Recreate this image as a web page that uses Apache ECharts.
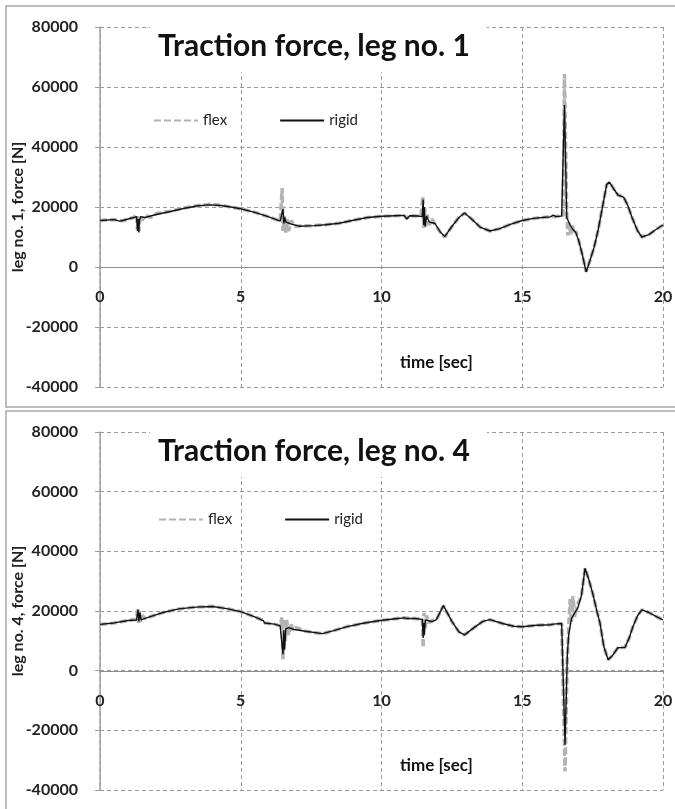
<!DOCTYPE html>
<html><head><meta charset="utf-8">
<script src="https://cdn.jsdelivr.net/npm/echarts@6/dist/echarts.min.js"></script>
<style>html,body{margin:0;padding:0;background:#fff}#c{width:675px;height:809px}</style>
</head><body><div id="c"></div>
<script>
// ---- data ----
const titles = ['Traction force, leg no. 1', 'Traction force, leg no. 4'];
const yNames = ['leg no. 1, force [N]', 'leg no. 4, force [N]'];
const seriesNames = ['flex', 'rigid'];
const xTicks = [0, 5, 10, 15, 20];
const yTicks = [-40000, -20000, 0, 20000, 40000, 60000, 80000];

const leg1RigidT = [0,0.5,0.7,0.8,1.0,1.2,1.3,1.33,1.36,1.38,1.40,1.45,1.6,2.0,2.5,3.0,3.5,3.9,4.3,4.7,5.0,5.5,6.0,6.4,6.45,6.5,6.53,6.56,6.6,6.8,7.1,7.6,8.0,8.5,9.0,9.5,10.0,10.5,10.8,10.9,11.0,11.3,11.45,11.48,11.5,11.52,11.55,11.6,11.7,11.9,12.1,12.25,12.5,12.75,12.95,13.2,13.5,13.85,14.2,14.6,15.0,15.4,15.8,16.0,16.1,16.2,16.4,16.45,16.5,16.58,16.7,16.8,16.9,17.0,17.15,17.27,17.4,17.55,17.7,17.85,18.0,18.1,18.25,18.4,18.6,18.75,18.9,19.1,19.25,19.5,19.75,20];
const leg1RigidV = [15500,15800,15300,15500,16000,16500,16800,12000,16000,11500,15500,16800,16500,17500,18500,19600,20400,20700,20500,19900,19400,18200,16700,15300,15000,19300,14500,16500,15000,14300,13600,13800,14100,14600,15600,16500,16900,17100,17200,16000,17100,17000,16800,22500,14000,20000,13500,17000,15000,14500,11500,10200,13500,16500,18000,16000,13300,12000,12800,14300,15500,16200,16600,16700,17300,16800,17000,17200,54000,16500,14000,12500,11500,9000,3500,-1700,2000,6500,12500,20000,27500,28300,26000,24000,23300,20500,16500,12000,10000,10800,12500,14000];

const leg1FlexT = [0,0.5,0.8,1.0,1.2,1.3,1.33,1.36,1.39,1.42,1.5,1.6,1.8,2.0,2.5,3.0,3.5,3.9,4.3,4.7,5.0,5.5,6.0,6.4,6.47,6.5,6.55,6.6,6.65,6.7,6.8,6.9,7.1,7.6,8.0,8.5,9.0,9.5,10.0,10.5,10.8,10.9,11.0,11.4,11.47,11.5,11.53,11.57,11.62,11.7,11.8,11.9,12.1,12.25,12.5,12.75,12.95,13.2,13.5,13.85,14.2,14.6,15.0,15.4,15.8,16.0,16.2,16.45,16.5,16.58,16.62,16.67,16.72,16.78,16.85,16.9,17.0,17.15,17.27,17.4,17.55,17.7,17.85,18.0,18.1,18.25,18.4,18.6,18.75,18.9,19.1,19.25,19.5,19.75,20];
const leg1FlexV = [15500,15800,15400,16000,16500,17500,12500,17200,12000,17000,15500,17200,16500,17800,18600,19700,20500,20900,20600,19900,19400,18200,16700,15300,26300,12000,17000,11500,16000,12000,15500,13500,13700,13800,14100,14600,15600,16500,16900,17100,17200,16200,17100,17000,23500,13000,20000,13500,17500,14000,16000,14200,11400,10000,13500,16500,18000,16000,13300,12000,12800,14300,15500,16200,16600,16700,16800,17200,64300,18000,10500,15000,10800,14000,11000,12000,9000,3500,-1500,2000,6500,12500,20000,27500,28300,26000,24000,23300,20500,16500,12000,10000,10800,12500,14000];

const leg4RigidT = [0,0.5,1.0,1.3,1.35,1.38,1.42,1.46,1.6,2.2,2.8,3.4,4.0,4.5,5.0,5.5,5.8,5.85,5.9,6.2,6.4,6.47,6.5,6.53,6.56,6.6,6.7,6.9,7.3,7.9,8.3,8.75,9.3,9.95,10.5,10.8,10.85,10.9,11.2,11.45,11.48,11.5,11.52,11.56,11.65,11.8,11.95,12.2,12.5,12.75,12.95,13.3,13.6,13.85,14.3,14.7,15.0,15.5,16.0,16.05,16.1,16.4,16.45,16.52,16.6,16.65,16.75,16.97,17.1,17.23,17.35,17.5,17.65,17.76,17.9,18.05,18.2,18.4,18.65,18.8,18.93,19.1,19.25,19.5,19.75,20];
const leg4RigidV = [15500,16000,16800,17000,20500,16500,19500,17000,17500,19400,20700,21300,21500,20800,19800,18000,16800,16000,16600,15600,15000,14500,5500,13500,7000,14000,14400,13800,13200,12400,13400,14700,15800,16800,17400,17700,18000,17500,17500,17200,11000,16000,12000,17000,16800,16400,17100,21800,16500,13000,12000,14500,16500,17100,15800,14900,14700,15200,15400,14800,15600,15800,15500,-24800,5000,12000,17500,21000,25000,34300,31000,26000,20000,16000,8000,3700,5000,7700,7800,11000,14700,18500,20400,19500,18200,17000];

const leg4FlexT = [0,0.5,1.0,1.3,1.34,1.37,1.4,1.44,1.5,1.6,2.2,2.8,3.4,4.0,4.5,5.0,5.5,5.8,5.85,5.9,6.2,6.4,6.46,6.5,6.54,6.58,6.63,6.7,6.78,6.85,6.95,7.3,7.9,8.3,8.75,9.3,9.95,10.5,10.8,11.2,11.45,11.48,11.51,11.55,11.6,11.68,11.8,11.95,12.2,12.5,12.75,12.95,13.3,13.6,13.85,14.3,14.7,15.0,15.5,16.0,16.4,16.45,16.52,16.6,16.65,16.7,16.75,16.8,16.87,16.95,17.1,17.23,17.35,17.5,17.65,17.76,17.9,18.05,18.2,18.4,18.65,18.8,18.93,19.1,19.25,19.5,19.75,20];
const leg4FlexV = [15500,16000,16800,17200,21000,16000,20000,16500,18500,17500,19400,20700,21300,21600,20800,19800,18000,16800,16000,16600,15600,15000,17800,3700,17500,10000,17000,12000,16000,13500,14500,13200,12400,13400,14700,15800,16800,17400,17700,17500,17200,7700,19400,14000,18500,16000,16800,17100,21800,16500,13000,12000,14500,16500,17100,15800,14900,14700,15200,15400,15800,15500,-33800,4000,15000,24000,16000,25000,18000,22000,25000,34300,31000,26000,20000,16000,8000,3700,5000,7700,7800,11000,14700,18500,20400,19500,18200,17000];

// ---- build ----
function pairs(t, v) { return t.map((x, i) => [x, v[i]]); }
const FONT = 'Lato';
const panels = [
  { top: 27, height: 360, flex: pairs(leg1FlexT, leg1FlexV), rigid: pairs(leg1RigidT, leg1RigidV),
    titleTop: 26, legendTop: 108, legendLeft: 148, timeTop: 349 },
  { top: 432, height: 358, flex: pairs(leg4FlexT, leg4FlexV), rigid: pairs(leg4RigidT, leg4RigidV),
    titleTop: 431, legendTop: 507, legendLeft: 153, timeTop: 752 }
];

const grid = [], xAxis = [], yAxis = [], series = [], legend = [], title = [], graphic = [];
panels.forEach((p, i) => {
  grid.push({ left: 100, width: 563, top: p.top, height: p.height, containLabel: false, outerBoundsMode: 'none' });
  // zero line sits 1/3 of the way up from the bottom (range -40000..80000)
  const zeroOffset = -Math.round(p.height / 3);
  xAxis.push({
    type: 'value', gridIndex: i, min: 0, max: 20, interval: 5,
    position: 'bottom', offset: zeroOffset,
    axisLine: { onZero: false, lineStyle: { color: '#8c8c8c', width: 1.2 } },
    axisTick: { show: false },
    axisLabel: { margin: 22, color: '#222', fontFamily: FONT, fontSize: 16, fontWeight: 'bold' },
    splitLine: { show: true, lineStyle: { color: '#9a9a9a', type: [4, 3], width: 1 } }
  });
  yAxis.push({
    type: 'value', gridIndex: i, min: -40000, max: 80000, interval: 20000,
    name: yNames[i], nameLocation: 'middle', nameGap: 74, nameMoveOverlap: false,
    nameTextStyle: { fontFamily: FONT, fontSize: 16, fontWeight: 'bold', color: '#222' },
    axisLine: { show: true, onZero: false, lineStyle: { color: '#a0a0a0', width: 1.5 } },
    axisTick: { show: true, length: 5, lineStyle: { color: '#a0a0a0' } },
    axisLabel: { margin: 22, color: '#222', fontFamily: FONT, fontSize: 16, fontWeight: 'bold',
      formatter: v => String(v) },
    splitLine: { show: true, lineStyle: { color: '#9a9a9a', type: [4, 3], width: 1 } }
  });
  series.push({
    name: seriesNames[0], type: 'line', xAxisIndex: i, yAxisIndex: i, data: p.flex,
    symbol: 'none', animation: false, z: 2,
    itemStyle: { color: '#b3b3b3' },
    lineStyle: { color: '#b3b3b3', width: 3.5, type: [7, 3] }
  });
  series.push({
    name: seriesNames[1], type: 'line', xAxisIndex: i, yAxisIndex: i, data: p.rigid,
    symbol: 'none', animation: false, z: 3,
    itemStyle: { color: '#111' },
    lineStyle: { color: '#111', width: 1.4 }
  });
  legend.push({
    data: seriesNames, left: p.legendLeft, top: p.legendTop, itemWidth: 44, itemHeight: 14, itemGap: 52,
    itemStyle: { opacity: 0 },
    textStyle: { fontFamily: FONT, fontSize: 15, color: '#222' }, selectedMode: false
  });
  title.push({
    text: titles[i], left: 153, top: p.titleTop, z: 100,
    textStyle: { fontFamily: FONT, fontSize: 30, fontWeight: 'bold', color: '#111' }
  });
  title.push({
    text: 'time [sec]', left: 395, top: p.timeTop, z: 100,
    textStyle: { fontFamily: FONT, fontSize: 17, fontWeight: 'bold', color: '#111' }
  });
  graphic.push({ type: 'rect', z: 50, shape: { x: 150, y: p.top - 6, width: 337, height: 51 }, style: { fill: '#fff' } });
});
graphic.push({ type: 'rect', z: 60, shape: { x: 6, y: 6, width: 680, height: 401 }, style: { fill: 'none', stroke: '#a8a8a8', lineWidth: 1.5 } });
graphic.push({ type: 'rect', z: 60, shape: { x: 6, y: 411, width: 680, height: 410 }, style: { fill: 'none', stroke: '#a8a8a8', lineWidth: 1.5 } });

const chart = echarts.init(document.getElementById('c'), null, { renderer: 'canvas' });
chart.setOption({
  backgroundColor: '#fff', animation: false,
  grid, xAxis, yAxis, series, legend, title, graphic
});
</script></body></html>
